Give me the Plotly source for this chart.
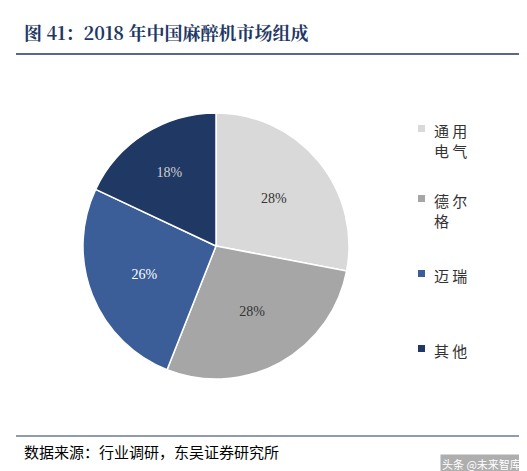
import plotly.graph_objects as go

labels = ["通用电气", "德尔格", "迈瑞", "其他"]
legend_text = ["通 用<br>电 气", "德 尔<br>格", "迈 瑞", "其 他"]
values = [28, 28, 26, 18]
colors = ["#D9D9D9", "#A6A6A6", "#3B5E98", "#1F3864"]
text_colors = ["#333333", "#333333", "#FFFFFF", "#D0D0D0"]

W, H = 527, 471
fig = go.Figure(go.Pie(
    labels=labels, values=values, sort=False, direction="clockwise", rotation=0,
    marker=dict(colors=colors, line=dict(color="white", width=1.5)),
    texttemplate="%{value}%", textposition="inside",
    insidetextfont=dict(family="Liberation Serif", size=14, color=text_colors),
    showlegend=False, hoverinfo="skip",
    domain=dict(x=[75/W, 341/W], y=[1-371/H, 1-105/H]),
))

shapes = [
    dict(type="line", xref="paper", yref="paper", x0=8/W, x1=519/W, y0=1-46/H, y1=1-46/H,
         line=dict(color="#1F3864", width=1.5)),
    dict(type="line", xref="paper", yref="paper", x0=8/W, x1=519/W, y0=1-428/H, y1=1-428/H,
         line=dict(color="#1F3864", width=1)),
]
ann = [
    dict(text="<b>图 41：2018 年中国麻醉机市场组成</b>", x=14/W, y=1-24/H, xanchor="left", yanchor="middle",
         font=dict(family="Noto Serif CJK SC, Liberation Serif, serif", size=18, color="#1F3864")),
    dict(text="数据来源：行业调研，东吴证券研究所", x=14/W, y=1-443/H, xanchor="left", yanchor="middle",
         font=dict(family="Noto Sans CJK SC", size=15, color="#000000")),
    dict(text="头条 @未来智库", x=515/W, y=1-456/H, xanchor="right", yanchor="middle",
         bgcolor="rgba(120,120,120,0.6)",
         font=dict(family="Noto Sans CJK SC", size=11, color="#FFFFFF")),
]
sq_y = [120, 190, 265, 340]
for lt, c, yy in zip(legend_text, colors, sq_y):
    shapes.append(dict(type="rect", xref="paper", yref="paper",
                       x0=410/W, x1=417/W, y0=1-(yy+4)/H, y1=1-(yy-3)/H,
                       fillcolor=c, line=dict(width=0)))
    ann.append(dict(text=lt, x=424/W, y=1-(yy-10)/H, xanchor="left", yanchor="top", align="left",
                    font=dict(family="Noto Sans CJK SC", size=15, color="#333333")))
ann = [dict(a, xref="paper", yref="paper", showarrow=False) for a in ann]

fig.update_layout(width=W, height=H, margin=dict(l=0, r=0, t=0, b=0),
                  paper_bgcolor="white", shapes=shapes, annotations=ann)
fig.write_html("out.html")
